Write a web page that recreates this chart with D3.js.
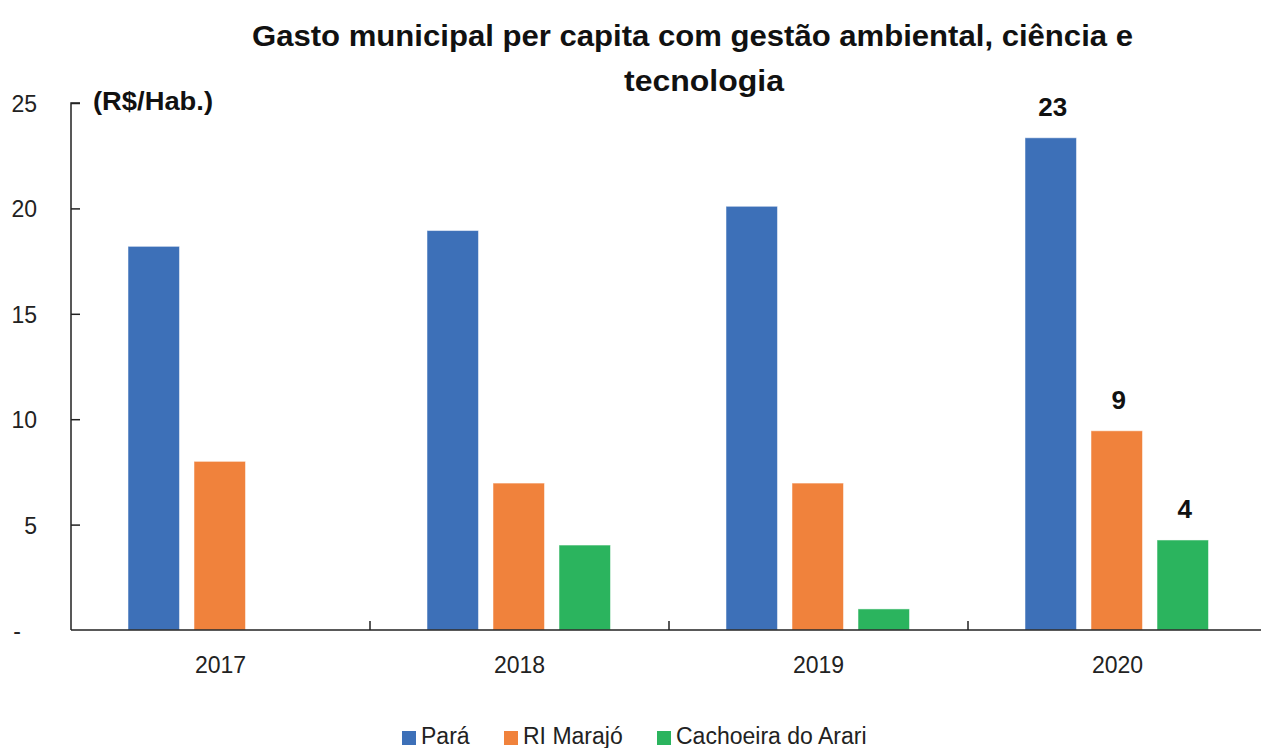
<!DOCTYPE html>
<html><head><meta charset="utf-8">
<script src="https://cdn.jsdelivr.net/npm/d3@7"></script>
<style>
body{margin:0;background:#fff;}
text{font-family:"Liberation Sans",Arial,sans-serif;}
</style></head>
<body>
<svg id="c" width="1261" height="748"></svg>
<script>
const years = ["2017","2018","2019","2020"];
const seriesNames = ["Pará","RI Marajó","Cachoeira do Arari"];
const para = [18.2, 18.95, 20.1, 23.35];
const marajo = [8.0, 6.97, 6.97, 9.45];
const cachoeira = [0, 4.03, 1.0, 4.27];
const yTicks = [0,5,10,15,20,25];
const labels2020 = ["23","9","4"];
const colors = ["#3D70B8","#F0823C","#2BB45E"];

const svg = d3.select("#c");
const x0 = d3.scaleBand().domain(years).range([71, 1267]).paddingInner(0).paddingOuter(0);
const y = d3.scaleLinear().domain([0,25]).range([630, 103]);
const x1 = d3.scaleBand().domain(seriesNames).range([57, 240.5]).paddingInner(0.22).paddingOuter(0);

const data = [para, marajo, cachoeira];

// Title
svg.append("text").attr("x",252).attr("y",46)
  .attr("font-size",29).attr("font-weight","bold").attr("fill","#111")
  .attr("textLength",881).attr("lengthAdjust","spacingAndGlyphs")
  .text("Gasto municipal per capita com gestão ambiental, ciência e");
svg.append("text").attr("x",624).attr("y",91)
  .attr("font-size",29).attr("font-weight","bold").attr("fill","#111")
  .attr("textLength",160).attr("lengthAdjust","spacingAndGlyphs")
  .text("tecnologia");
svg.append("text").attr("x",93).attr("y",110).attr("font-size",25).attr("font-weight","bold").attr("fill","#111")
  .attr("textLength",120).attr("lengthAdjust","spacingAndGlyphs").text("(R$/Hab.)");

// bars
years.forEach((yr,i)=>{
  seriesNames.forEach((s,j)=>{
    const v = data[j][i];
    if(v<=0) return;
    svg.append("rect").attr("x", x0(yr)+x1(s)).attr("y", y(v))
      .attr("width", x1.bandwidth()).attr("height", y(0)-y(v))
      .attr("fill", colors[j]).attr("stroke","#ffffff").attr("stroke-opacity",0.5).attr("stroke-width",1);
  });
});

// y axis
const ya = svg.append("g").attr("transform","translate(71,0)")
  .call(d3.axisRight(y).tickValues(yTicks).tickSize(9).tickFormat(""));
ya.select(".domain").attr("d", `M9,${y(25)}H0V${y(0)}`).attr("stroke","#222").attr("stroke-width",1.5);
ya.selectAll(".tick line").attr("stroke","#222").attr("stroke-width",1.5);
ya.selectAll(".tick").filter(d=>d===0).select("line").remove();
yTicks.forEach(t=>{
  svg.append("text").attr("x",t===0?17:37).attr("y",y(t)+9).attr("text-anchor",t===0?"middle":"end")
    .attr("font-size",23).attr("fill","#222").text(t===0?"-":t);
});

// x axis
svg.append("line").attr("x1",71).attr("x2",1267).attr("y1",630).attr("y2",630).attr("stroke","#222").attr("stroke-width",1.5);
years.slice(1).forEach(yr=>{
  svg.append("line").attr("x1",x0(yr)).attr("x2",x0(yr)).attr("y1",630).attr("y2",621).attr("stroke","#222").attr("stroke-width",1.5);
});
years.forEach(yr=>{
  svg.append("text").attr("x",x0(yr)+x0.bandwidth()/2).attr("y",673).attr("text-anchor","middle")
    .attr("font-size",23).attr("fill","#222").text(yr);
});

// data labels 2020
seriesNames.forEach((s,j)=>{
  const v = data[j][3];
  svg.append("text").attr("x",x0("2020")+x1(s)+x1.bandwidth()/2+2).attr("y",y(v)-22)
    .attr("text-anchor","middle").attr("font-size",26).attr("font-weight","bold").attr("fill","#111").text(labels2020[j]);
});

// legend
const legX = [402, 504, 657];
seriesNames.forEach((s,j)=>{
  svg.append("rect").attr("x",legX[j]).attr("y",731).attr("width",14).attr("height",14).attr("fill",colors[j]);
  svg.append("text").attr("x",legX[j]+19).attr("y",744).attr("font-size",23).attr("fill","#222").text(s);
});
</script>
</body></html>
